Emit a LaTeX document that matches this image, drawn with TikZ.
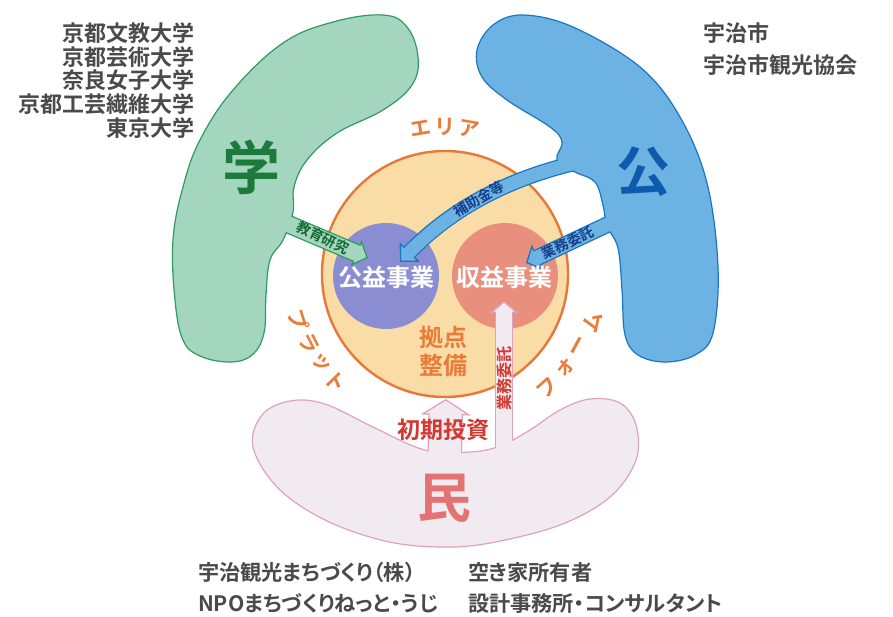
\documentclass[tikz,border=0pt]{standalone}
\usepackage{fontspec}
\setmainfont{Noto Sans CJK JP}[BoldFont={* Bold}]
\newfontfamily\btmfont{Noto Sans CJK JP}[BoldFont={* Bold},RawFeature=+palt]
\usetikzlibrary{arrows.meta}
\definecolor{gfill}{HTML}{A3D5BF}
\definecolor{gline}{HTML}{2F9A62}
\definecolor{gtext}{HTML}{1C7A3A}
\definecolor{gbandtext}{HTML}{176A33}
\definecolor{bfill}{HTML}{6CB2E2}
\definecolor{bline}{HTML}{1A76C0}
\definecolor{btext}{HTML}{0E5AAE}
\definecolor{bbandtext}{HTML}{173E8C}
\definecolor{pfill}{HTML}{F2EAF1}
\definecolor{pline}{HTML}{DDA3BC}
\definecolor{ptext}{HTML}{E37373}
\definecolor{cfill}{HTML}{FADDA6}
\definecolor{cline}{HTML}{E8773A}
\definecolor{ctext}{HTML}{E97B3B}
\definecolor{kfill}{HTML}{8B8DD2}
\definecolor{rfill}{HTML}{E98F7D}
\definecolor{redtext}{HTML}{D4382F}
\definecolor{listgray}{HTML}{4A4A4A}
\begin{document}
\begin{tikzpicture}[x=1pt,y=-1pt,
  every node/.style={inner sep=0pt,outer sep=0pt},
  lst/.style={font=\bfseries\fontsize{22}{22}\selectfont,text=listgray},
  btm/.style={font=\btmfont\bfseries\fontsize{21.2}{22}\selectfont,text=listgray},
  big/.style={font=\bfseries\fontsize{#1}{#1}\selectfont},
  arcg/.style={font=\bfseries\fontsize{21}{21}\selectfont,text=ctext},
  bandlbl/.style={font=\bfseries\fontsize{14}{14}\selectfont},
  shapeline/.style={line width=1.2pt},
]
\useasboundingbox (0,0) rectangle (893,616);
\fill[white] (0,0) rectangle (893,616);

% central area
\node[circle, minimum size=246pt, fill=cfill, draw=cline, line width=2.4pt] (area) at (445,274) {};
\node[circle, minimum size=106pt, fill=kfill] (pub) at (386,276) {};
\node[circle, minimum size=106pt, fill=rfill] (rev) at (505,276) {};

% ---------- green (学)
\coordinate (gs) at (262,213);
\coordinate (ge) at (368,258);
\draw[gline, line width=18.6pt, -{Triangle[length=13pt,width=28pt,fill=gfill,line width=1.3pt]}] (gs) -- (ge);
\draw[gline, fill=gfill, shapeline] plot[smooth cycle, tension=0.65] coordinates {
 (383,15) (407,27) (418,57) (412,85) (383,110) (337,133) (307,160) (294,187) (293,212)
 (283,240) (270,260) (266,295) (264,333) (252,355) (230,362) (200,356) (183,340) (175,300)
 (173,240) (183,187) (200,140) (233,90) (283,43) (333,22)};
\draw[gfill, line width=16pt, shorten >=11pt] (gs) -- (ge);

% ---------- blue (公)
\coordinate (hs) at (600,158);
\coordinate (he) at (400,262);
\coordinate (ws) at (632,213);
\coordinate (we) at (526,263);
\draw[bline, line width=15.6pt, -{Triangle[length=14pt,width=28pt,fill=bfill,line width=1.3pt]}] (hs) .. controls (520,172) and (455,205) .. (he);
\draw[bline, line width=16.6pt, -{Triangle[length=13pt,width=28pt,fill=bfill,line width=1.3pt]}] (ws) -- (we);
\draw[bline, fill=bfill, shapeline] plot[smooth cycle, tension=0.6] coordinates {
 (523,15) (573,27) (640,67) (680,117) (707,183) (718,267) (713,333) (695,355) (665,362)
 (638,355) (625,335) (622,290) (618,248) (607,226) (603,205) (595,182) (575,172) (557,160)
 (562,142) (550,127) (507,100) (482,77) (477,50) (493,25)};
\draw[bfill, line width=13pt, shorten >=12pt] (hs) .. controls (520,172) and (455,205) .. (he);
\draw[bfill, line width=14pt, shorten >=11pt] (ws) -- (we);

% ---------- pink (民)
\coordinate (is) at (444,490);
\coordinate (ie) at (446,399);
\coordinate (ps) at (504,490);
\coordinate (pe) at (504,301);
\draw[pline, line width=34.6pt, -{Triangle[length=16pt,width=50pt,fill=pfill,line width=1.3pt]}] (is) -- (ie);
\draw[pline, line width=18.6pt, -{Triangle[length=12pt,width=28pt,fill=pfill,line width=1.3pt]}] (ps) -- (pe);
\draw[pline, fill=pfill, shapeline] plot[smooth cycle, tension=0.6] coordinates {
 (253,447) (262,415) (290,401) (325,404) (375,428) (425,450) (470,452) (500,446) (530,430)
 (560,410) (590,399) (620,403) (636,425) (636,460) (610,497) (560,525) (490,543) (440,547)
 (385,541) (325,520) (278,488)};
\draw[pfill, line width=32pt, shorten >=14pt] (is) -- (ie);
\draw[pfill, line width=16pt, shorten >=10pt] (ps) -- (pe);

% ---------- labels
\node[big=58, text=gtext] (gaku) at (251,167) {学};
\node[big=54, text=btext] (kou) at (643,172) {公};
\node[big=54, text=ptext] (min) at (444,498) {民};

\node[bandlbl, text=gbandtext, rotate=-26] (kyoiku) at (323,238) {教育研究};
\node[bandlbl, text=bbandtext, rotate=30] (hojo) at (479,199) {補助金等};
\node[bandlbl, text=bbandtext, rotate=25] (itaku1) at (568,243) {業務委託};
\node[font=\bfseries\fontsize{16}{16}\selectfont, text=redtext, rotate=90] (itaku2) at (504,378) {業務委託};
\node[font=\bfseries\fontsize{23}{23}\selectfont, text=redtext] (toushi) at (443,430) {初期投資};

\node[font=\bfseries\fontsize{24}{24}\selectfont, text=white] (publbl) at (386,277) {公益事業};
\node[font=\bfseries\fontsize{24}{24}\selectfont, text=white] (revlbl) at (504,277) {収益事業};
\node[font=\bfseries\fontsize{24}{28}\selectfont, text=ctext, align=center] (kyoten) at (443,351) {拠点\\整備};

% arc text
\node[arcg, rotate=9.5] (e1) at ({445+147*cos(99.5)},{274-147*sin(99.5)}) {エ};
\node[arcg, rotate=0] (e2) at ({445+147*cos(90)},{274-147*sin(90)}) {リ};
\node[arcg, rotate=-9.5] (e3) at ({445+147*cos(80.5)},{274-147*sin(80.5)}) {ア};
\node[arcg, rotate=-72.5] (p1) at ({445+153*cos(197.5)},{274-153*sin(197.5)}) {プ};
\node[arcg, rotate=-63] (p2) at ({445+153*cos(207)},{274-153*sin(207)}) {ラ};
\node[arcg, rotate=-54.5] (p3) at ({445+153*cos(215.5)},{274-153*sin(215.5)}) {ッ};
\node[arcg, rotate=-45.5] (p4) at ({445+153*cos(224.5)},{274-153*sin(224.5)}) {ト};
\node[arcg, rotate=42] (f1) at ({445+153*cos(312)},{274-153*sin(312)}) {フ};
\node[arcg, rotate=52] (f2) at ({445+153*cos(322)},{274-153*sin(322)}) {ォ};
\node[arcg, rotate=61.5] (f3) at ({445+153*cos(331.5)},{274-153*sin(331.5)}) {ー};
\node[arcg, rotate=72] (f4) at ({445+155*cos(342)},{274-155*sin(342)}) {ム};

% lists
\node[lst, anchor=east] (u1) at (194,33) {京都文教大学};
\node[lst, anchor=east] (u2) at (194,57) {京都芸術大学};
\node[lst, anchor=east] (u3) at (194,80) {奈良女子大学};
\node[lst, anchor=east] (u4) at (194,104) {京都工芸繊維大学};
\node[lst, anchor=east] (u5) at (194,128) {東京大学};
\node[lst, anchor=west] (c1) at (703,33) {宇治市};
\node[lst, anchor=west] (c2) at (703,65) {宇治市観光協会};
\node[btm, anchor=west] (m1) at (198,572) {宇治観光まちづくり（株）};
\node[btm, anchor=west] (m2) at (198,603) {NPOまちづくりねっと・うじ};
\node[btm, anchor=west] (m3) at (468,572) {空き家所有者};
\node[btm, anchor=west] (m4) at (468,603) {設計事務所・コンサルタント};
\end{tikzpicture}
\end{document}
